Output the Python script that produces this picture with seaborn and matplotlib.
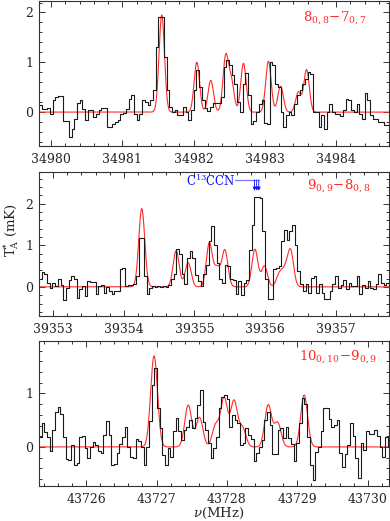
import numpy as np
import pandas as pd
import matplotlib
matplotlib.use("Agg")
import matplotlib.pyplot as plt
from matplotlib.ticker import MultipleLocator, FormatStrFormatter
import seaborn as sns

sns.set_style("ticks")
plt.rcParams["font.family"] = ["DejaVu Serif"]
plt.rcParams["mathtext.fontset"] = "dejavuserif"

# channel width of the spectra (MHz)
chan = 0.0381

# ---- panel 1 : 8(0,8)-7(0,7) ----
f0_1 = 34979.83
t1 = [0.15, 0.06, 0.06, 0.08, -0.03, 0.24, 0.3, 0.32, 0.32, -0.18,
      -0.18, -0.49, -0.33, -0.13, 0.19, 0.25, 0.07, -0.16, 0.04, 0.05,
      -0.1, -0.03, 0.04, 0.08, 0.08, -0.3, -0.3, -0.23, -0.2, -0.15,
      -0.03, -0.01, 0.07, 0.27, 0.34, -0.03, -0.16, -0.03, 0.25, 0.2,
      0.14, 0.24, 0.44, 1.3, 1.9, 1.9, 1.1, 0.44, 0.11, 0.01,
      0.04, -0.06, -0.06, 0.11, 0.01, -0.16, 0.04, 0.44, 0.85, 0.5,
      0.25, 0.08, 0.03, 0.1, 0.19, 0.19, 0.19, 0.3, 0.9, 1.04,
      0.94, 0.74, 0.57, 0.2, 0.0, 0.57, 0.79, 0.34, -0.23, -0.18,
      0.0, 0.17, 0.24, -0.21, -0.23, 1.0, 0.94, 0.57, 0.51, 0.0,
      -0.29, -0.06, 0.0, -0.06, 0.17, 0.34, 0.44, 0.57, 0.67, 0.8,
      0.77, 0.0, 0.0, -0.29, -0.06, -0.33, 0.0, 0.17, 0.0, -0.03,
      -0.03, -0.08, 0.04, 0.27, 0.24, 0.04, 0.01, 0.17, -0.03, -0.13,
      0.39, 0.24, -0.06, -0.13, -0.13, -0.19, -0.19, -0.25, -0.25, -0.25]
m1_freq = [34981.553, 34982.045, 34982.241, 34982.45, 34982.53, 34982.70,
           34983.05, 34983.22, 34983.47, 34983.585]
m1_peak = [1.95, 1.0, 0.64, 1.1, 0.6, 0.98, 1.02, 0.52, 0.4, 0.85]
m1_fwhm = 0.09

# ---- panel 2 : 9(0,9)-8(0,8) ----
f0_2 = 39352.80
t2 = [0.18, 0.36, 0.3, 0.1, -0.02, 0.1, 0.02, 0.2, 0.05, -0.32,
      -0.02, 0.17, 0.27, 0.2, -0.26, -0.06, 0.02, -0.22, 0.13, 0.11,
      0.11, -0.18, 0.02, 0.05, -0.14, 0.0, -0.1, -0.16, -0.1, -0.1,
      0.42, 0.46, 0.02, 0.05, 0.05, 0.08, 0.25, 1.18, 1.18, 0.25,
      -0.16, -0.02, 0.02, 0.0, 0.02, -0.01, 0.03, 0.0, 0.05, 0.2,
      0.3, 0.9, 0.8, 0.3, 0.07, 0.7, 0.87, 0.7, 0.28, 0.13,
      0.02, 0.31, 0.52, 1.1, 1.47, 1.0, 0.57, 0.2, 0.1, 0.52,
      0.5, 0.2, 0.17, -0.18, 0.13, -0.2, 0.1, 0.17, 0.89, 1.49,
      2.17, 2.17, 2.13, 1.33, 0.2, -0.28, -0.28, 0.42, 0.45, 0.5,
      1.09, 1.37, 1.13, 1.33, 1.49, 1.0, 0.37, 0.06, -0.1, 0.06,
      -0.15, 0.22, 0.26, -0.15, 0.06, -0.15, -0.28, -0.3, -0.1, 0.06,
      0.25, -0.02, 0.05, 0.17, -0.05, 0.1, 0.02, 0.02, 0.25, -0.18,
      0.05, -0.02, 0.13, -0.02, -0.06, 0.06, 0.3, 0.1, 0.05, 0.1]
m2_freq = [39354.254, 39354.74, 39354.91, 39355.21, 39355.32, 39355.43,
           39355.855, 39355.99, 39356.20, 39356.28, 39356.36]
m2_peak = [1.88, 0.87, 0.58, 1.05, 0.45, 0.88, 0.9, 0.5, 0.3, 0.35, 0.85]
m2_fwhm = 0.10

# ---- panel 3 : 10(0,10)-9(0,9) ----
f0_3 = 43725.33
t3 = [0.19, 0.45, 0.28, 0.19, -0.07, 0.31, 0.65, 0.75, 0.62, 0.19,
      -0.22, -0.25, 0.03, -0.34, -0.3, 0.19, 0.2, -0.02, -0.2, 0.0,
      0.09, 0.03, -0.07, -0.12, 0.22, 0.49, 0.22, -0.34, -0.31, -0.12,
      0.06, 0.19, 0.37, 0.0, -0.18, -0.21, 0.15, 0.12, 0.0, -0.33,
      0.0, 0.49, 1.16, 1.47, 0.72, 0.35, -0.15, -0.34, -0.02, -0.18,
      0.29, 0.54, 0.29, 0.13, 0.32, 0.38, 0.5, 0.35, 0.54, 0.78,
      1.06, 0.47, 0.32, 0.07, -0.21, -0.02, 0.19, 0.72, 0.94, 0.97,
      0.9, 0.38, 0.6, 0.5, 0.44, 0.04, 0.07, 0.35, 0.22, 0.15,
      -0.27, -0.12, 0.0, 0.13, 0.5, 0.66, 0.41, -0.14, -0.14, 0.32,
      0.35, 0.16, 0.38, 0.16, 0.05, -0.26, 0.07, 0.44, 0.91, 0.81,
      0.19, -0.34, -0.62, -0.09, 0.0, 0.29, 0.72, 0.72, 0.53, 0.38,
      0.41, 0.5, -0.12, -0.37, -0.14, 0.04, 0.44, 0.2, -0.2, -0.59,
      0.07, -0.06, 0.29, 0.25, 0.25, 0.32, 0.2, 0.0, -0.18, 0.19, 0.0]
m3_freq = [43726.965, 43727.45, 43727.61, 43727.84, 43727.96, 43728.10,
           43728.22, 43728.586, 43728.72, 43729.097]
m3_peak = [1.70, 0.78, 0.55, 0.4, 0.9, 0.85, 0.35, 0.78, 0.45, 0.97]
m3_fwhm = 0.115

panels = [
    dict(f0=f0_1, t=t1, mf=m1_freq, mp=m1_peak, w=m1_fwhm,
         xlim=(34979.83, 34984.74), ylim=(-0.68, 2.24),
         label=r"$8_{0,8}\!-\!7_{0,7}$", lpos=(0.755, 0.885)),
    dict(f0=f0_2, t=t2, mf=m2_freq, mp=m2_peak, w=m2_fwhm,
         xlim=(39352.80, 39357.75), ylim=(-0.70, 2.76),
         label=r"$9_{0,9}\!-\!8_{0,8}$", lpos=(0.765, 0.905)),
    dict(f0=f0_3, t=t3, mf=m3_freq, mp=m3_peak, w=m3_fwhm,
         xlim=(43725.33, 43730.30), ylim=(-0.73, 1.98),
         label=r"$10_{0,10}\!-\!9_{0,9}$", lpos=(0.742, 0.89)),
]

# axes boxes in figure fraction (left, bottom, width, height)
boxes = [(0.100, 0.7198, 0.897, 0.2792),
         (0.100, 0.3935, 0.897, 0.2764),
         (0.100, 0.0672, 0.897, 0.2783)]

fig = plt.figure(figsize=(3.9, 5.21), dpi=100)

for p, box in zip(panels, boxes):
    ax = fig.add_axes(box)
    vals = list(p["t"])
    edges = p["f0"] + chan * np.arange(len(vals) + 1)
    spec = pd.DataFrame({"freq": edges, "TA": vals + vals[-1:]})

    grid = np.linspace(p["xlim"][0], p["xlim"][1], 2000)
    model = np.zeros_like(grid)
    for c, a in zip(p["mf"], p["mp"]):
        model += a * np.exp(-4 * np.log(2) * (grid - c) ** 2 / p["w"] ** 2)
    fit = pd.DataFrame({"freq": grid, "TA": model})

    sns.lineplot(data=fit, x="freq", y="TA", ax=ax, color="#ff2a2a", lw=0.8)
    sns.lineplot(data=spec, x="freq", y="TA", ax=ax, color="#1a1a1a",
                 lw=0.8, drawstyle="steps-post", estimator=None)

    ax.set_xlim(*p["xlim"])
    ax.set_ylim(*p["ylim"])
    ax.set_xlabel("")
    ax.set_ylabel("")
    ax.xaxis.set_major_locator(MultipleLocator(1))
    ax.xaxis.set_minor_locator(MultipleLocator(0.2))
    ax.yaxis.set_major_locator(MultipleLocator(1))
    ax.yaxis.set_minor_locator(MultipleLocator(0.2))
    ax.xaxis.set_major_formatter(FormatStrFormatter("%d"))
    ax.yaxis.set_major_formatter(FormatStrFormatter("%d"))
    ax.tick_params(which="both", direction="in", top=True, right=True,
                   width=0.7, color="#333333", labelsize=9)
    ax.tick_params(which="major", length=4.5)
    ax.tick_params(which="minor", length=2.4)
    ax.tick_params(axis="x", pad=5)
    ax.tick_params(axis="y", pad=4)
    for s in ax.spines.values():
        s.set_linewidth(0.8)
        s.set_color("#333333")
    ax.text(p["lpos"][0], p["lpos"][1], p["label"], transform=ax.transAxes,
            color="#ff2a2a", fontsize=9.5, va="center", ha="left")
    p["ax"] = ax

# C13CCN marker in the middle panel
ax2 = panels[1]["ax"]
c13_freqs = [39355.85, 39355.88, 39355.91]
ax2.plot([39355.58, 39355.92], [2.57, 2.57], color="#7a7aff", lw=0.9)
for f in c13_freqs:
    ax2.annotate("", xy=(f, 2.31), xytext=(f, 2.57),
                 arrowprops=dict(arrowstyle="-|>", color="#1010ff", lw=0.6,
                                 mutation_scale=5, shrinkA=0, shrinkB=0))
ax2.text(39355.585, 2.55, r"C$^{13}$CCN", color="#1010ff", fontsize=8.5,
         ha="right", va="center")

fig.text(0.028, 0.558, r"T$_\mathrm{A}^{*}$ (mK)", rotation=90,
         ha="center", va="center", fontsize=9.5)
fig.text(0.56, 0.0154, r"$\nu$(MHz)", ha="center", va="center", fontsize=9.5)

fig.savefig("out.png", dpi=100)
